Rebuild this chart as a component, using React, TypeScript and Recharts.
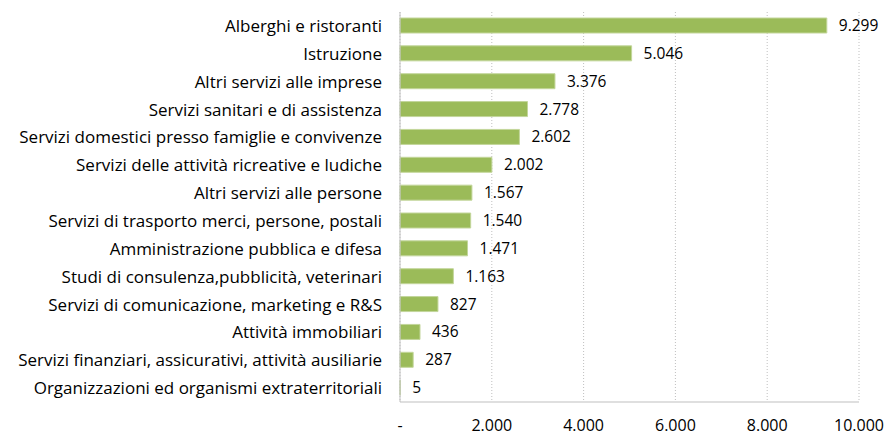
import React from "react";
import { BarChart, Bar, XAxis, YAxis, CartesianGrid, LabelList } from "recharts";

const categories = [
  "Alberghi e ristoranti",
  "Istruzione",
  "Altri servizi alle imprese",
  "Servizi sanitari e di assistenza",
  "Servizi domestici presso famiglie e convivenze",
  "Servizi delle attività ricreative e ludiche",
  "Altri servizi alle persone",
  "Servizi di trasporto merci, persone, postali",
  "Amministrazione pubblica e difesa",
  "Studi di consulenza,pubblicità, veterinari",
  "Servizi di comunicazione, marketing e R&S",
  "Attività immobiliari",
  "Servizi finanziari, assicurativi, attività ausiliarie",
  "Organizzazioni ed organismi extraterritoriali",
];

const values = [9299, 5046, 3376, 2778, 2602, 2002, 1567, 1540, 1471, 1163, 827, 436, 287, 5];

const xTicks = [0, 2000, 4000, 6000, 8000, 10000];

const data = categories.map((name, i) => ({ name, value: values[i] }));

const fmt = (v: number) => (v === 0 ? "-" : v.toLocaleString("de-DE"));

const FONT = "'Open Sans', sans-serif";

export default function App() {
  return (
    <div style={{ position: "absolute", left: 0, top: 0, width: 890, height: 435, background: "#fff" }}>
      <BarChart
        width={890}
        height={435}
        data={data}
        layout="vertical"
        margin={{ top: 12, right: 31, bottom: 0, left: 0 }}
        barCategoryGap={0}
      >
        <CartesianGrid horizontal={false} stroke="#bfbfbf" strokeDasharray="1 2" />
        <XAxis
          type="number"
          domain={[0, 10000]}
          ticks={xTicks}
          tickFormatter={fmt}
          axisLine={{ stroke: "#bfbfbf" }}
          tickLine={false}
          tickSize={6}
          tickMargin={12}
          height={33}
          interval={0}
          tick={{ fill: "#000", fontSize: 16, fontFamily: FONT }}
        />
        <YAxis
          type="category"
          dataKey="name"
          width={400}
          axisLine={{ stroke: "#bfbfbf" }}
          tickLine={false}
          tickSize={6}
          tickMargin={12}
          interval={0}
          tick={{ fill: "#000", fontSize: 17, fontFamily: FONT }}
        />
        <Bar dataKey="value" fill="#9bbb59" stroke="#c3d69b" strokeWidth={1} barSize={15} isAnimationActive={false}>
          <LabelList
            dataKey="value"
            position="right"
            offset={12}
            formatter={(v: any) => fmt(Number(v))}
            style={{ fill: "#000", fontSize: 15.5, fontFamily: FONT }}
          />
        </Bar>
      </BarChart>
    </div>
  );
}
